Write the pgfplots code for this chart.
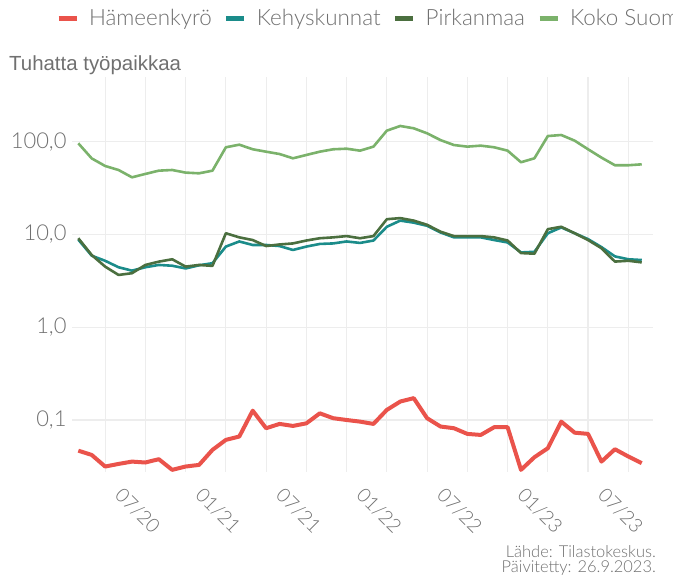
\documentclass[border=0pt]{standalone}
\usepackage{pgfplots}
\pgfplotsset{compat=1.18}
\usepackage{fontspec}
\setmainfont{Lato}[UprightFont=* Light]
\newfontfamily\titlefont{Liberation Sans}
\definecolor{cRed}{HTML}{EA534B}
\definecolor{cTeal}{HTML}{1B8C8A}
\definecolor{cDark}{HTML}{4B6F3F}
\definecolor{cLight}{HTML}{7BB26B}
\definecolor{cGrid}{HTML}{EDEDED}
\definecolor{cText}{HTML}{707070}

\pgfplotstableread{
i hk kk pm ks
0 0.0467 8.8 9.1 96
1 0.042 5.9 6.0 66
2 0.0315 5.2 4.5 54.7
3 0.0336 4.43 3.66 49.5
4 0.0356 4.07 3.82 41.3
5 0.0348 4.43 4.69 44.9
6 0.0378 4.69 5.09 48.7
7 0.029 4.6 5.4 49.5
8 0.0315 4.3 4.5 46.4
9 0.0328 4.65 4.69 45.6
10 0.0476 4.9 4.58 48.7
11 0.061 7.4 10.3 87
12 0.0663 8.4 9.3 92.8
13 0.126 7.7 8.7 82.8
14 0.0815 7.7 7.5 78
15 0.0907 7.5 7.8 73.6
16 0.0863 6.8 8.0 66.2
17 0.092 7.4 8.6 71.9
18 0.118 7.9 9.1 78
19 0.1045 8.0 9.3 82.8
20 0.1 8.4 9.6 84
21 0.096 8.1 9.1 80
22 0.0907 8.6 9.6 88.4
23 0.1285 12.1 14.6 131.5
24 0.158 14.1 15.0 147.6
25 0.172 13.4 14.1 139.4
26 0.1045 12.4 12.7 123
27 0.085 10.5 10.7 104
28 0.0815 9.3 9.6 92
29 0.0708 9.3 9.6 88.4
30 0.069 9.3 9.6 90.6
31 0.0836 8.7 9.3 87
32 0.0836 8.2 8.6 80
33 0.029 6.4 6.3 60
34 0.0397 6.5 6.2 66.2
35 0.0496 10.3 11.4 115
36 0.096 11.9 12.1 118
37 0.073 10.3 10.3 102.5
38 0.0708 8.9 8.7 82.8
39 0.0356 7.3 7.1 67.3
40 0.0484 5.8 5.1 55.7
41 0.0404 5.4 5.2 55.7
42 0.0342 5.3 5.0 57
}\datatable

\begin{document}
\begin{tikzpicture}[x=1bp,y=1bp]
\path[use as bounding box] (0,0) rectangle (673,579);
\begin{axis}[
  at={(72bp,107bp)}, anchor=south west,
  scale only axis, width=581bp, height=395bp,
  xmin=-0.47, xmax=42.84,
  ymode=log, ymin=0.0275, ymax=498,
  axis line style={draw=none},
  tick style={draw=none},
  xtick={5,11,17,23,29,35,41},
  xticklabels={07/20,01/21,07/21,01/22,07/22,01/23,07/23},
  minor xtick={2,8,14,20,26,32,38},
  xmajorgrids, xminorgrids, ymajorgrids,
  major grid style={cGrid, line width=1.2bp},
  minor grid style={cGrid, line width=1.2bp},
  ytick={0.1,1,10,100},
  yticklabels={{0,1},{1,0},{10,0},{100,0}},
  minor y tick num=0,
  /pgf/number format/assume math mode=true,
  yticklabel style={font=\fontsize{22}{26}\selectfont, text=cText, xshift=-2bp},
  xticklabel style={font=\fontsize{19.5}{23}\selectfont, text=cText, rotate=-45, anchor=north},
  xticklabel shift=31bp,
  legend columns=-1,
  legend style={at={(-0.0275,1.149)}, anchor=west, draw=none, fill=none,
    inner sep=0pt, outer sep=0pt,
    nodes={inner sep=0pt, outer sep=0pt},
    font=\fontsize{22.5}{26}\selectfont, text=cText,
    /tikz/every odd column/.append style={column sep=10bp},
    /tikz/every even column/.append style={column sep=12bp}},
  legend image code/.code={\draw[#1, line width=5bp] (0bp,0bp) -- (18bp,0bp);},
  every axis plot/.append style={line join=round},
]
\addplot[cRed, line width=4bp] table[x=i, y=hk] {\datatable};
\addlegendentry{Hämeenkyrö}
\addplot[cTeal, line width=2.6bp] table[x=i, y=kk] {\datatable};
\addlegendentry{Kehyskunnat}
\addplot[cDark, line width=2.6bp] table[x=i, y=pm] {\datatable};
\addlegendentry{Pirkanmaa}
\addplot[cLight, line width=2.6bp] table[x=i, y=ks] {\datatable};
\addlegendentry{Koko Suomi}
\end{axis}
\node[anchor=base west, font=\titlefont\fontsize{20.5}{24}\selectfont, text=cText, inner sep=0pt] at (9,508) {Tuhatta työpaikkaa};
\node[anchor=base east, font=\fontsize{16.5}{19}\selectfont, text=cText, inner sep=0pt] at (656,21) {Lähde: Tilastokeskus.};
\node[anchor=base east, font=\fontsize{16.5}{19}\selectfont, text=cText, inner sep=0pt] at (656,6) {Päivitetty: 26.9.2023.};
\end{tikzpicture}
\end{document}
